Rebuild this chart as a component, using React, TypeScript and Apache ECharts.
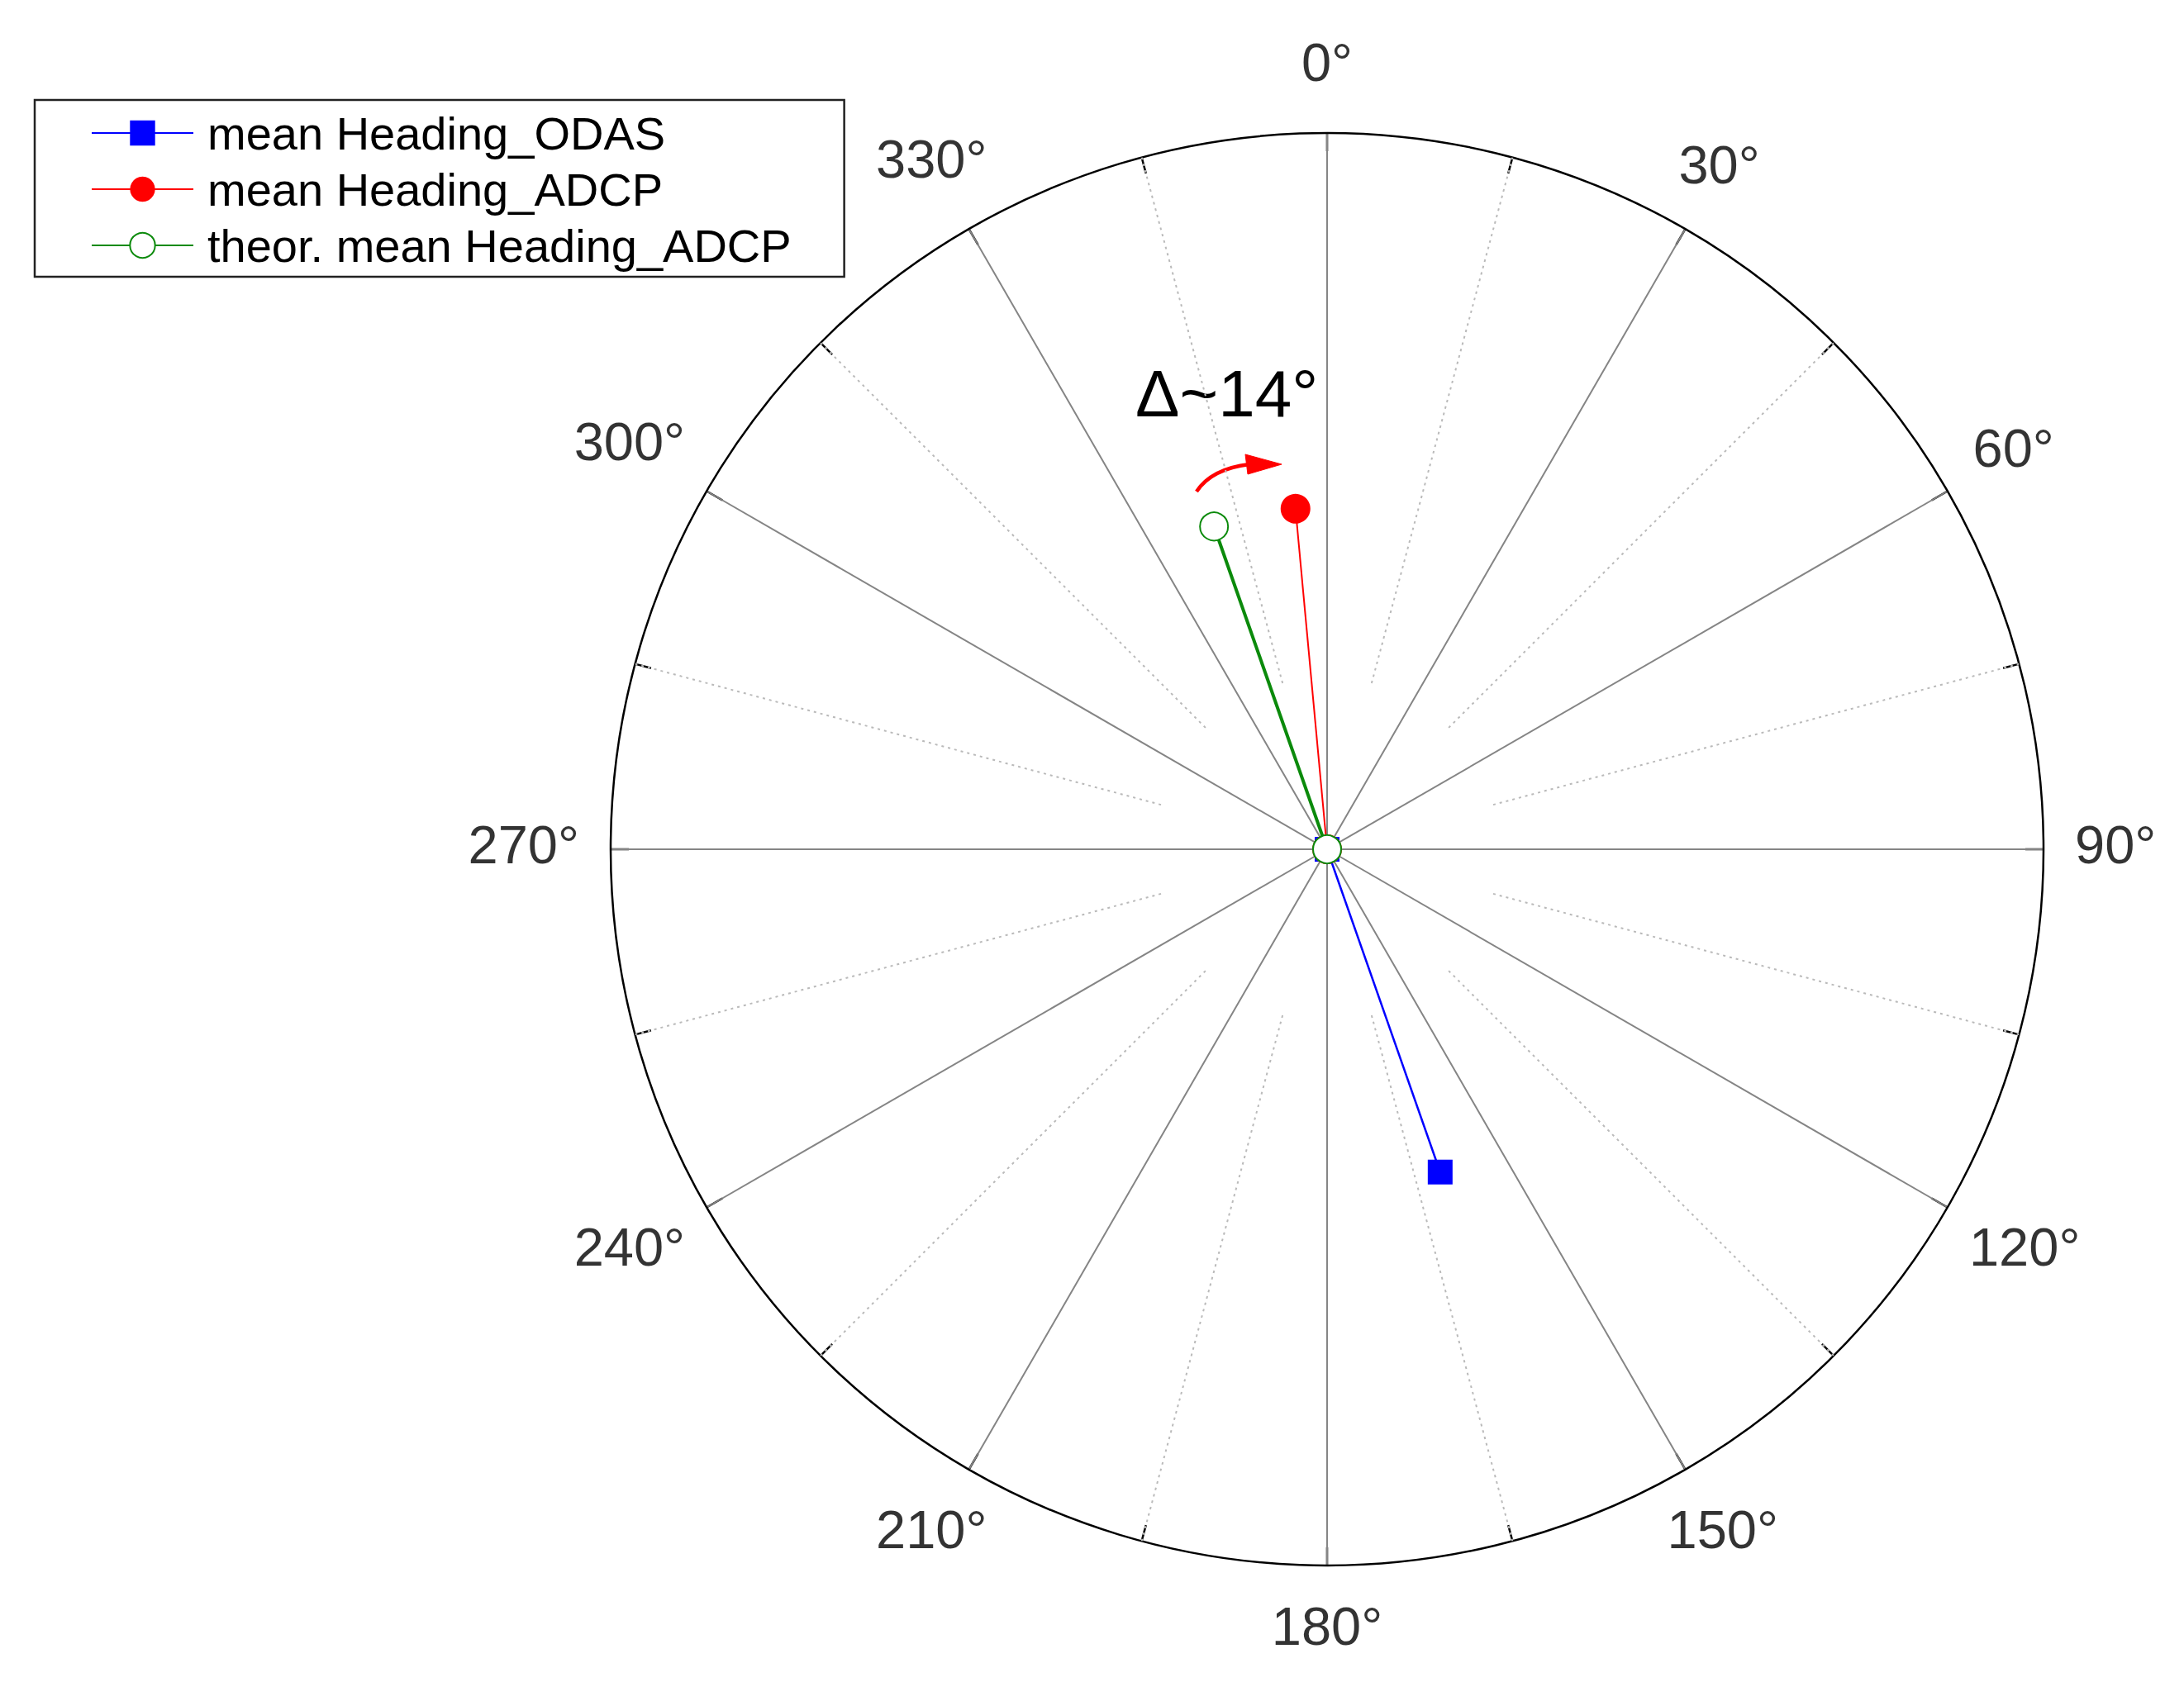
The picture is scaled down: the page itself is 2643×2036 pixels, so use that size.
import React, { useEffect, useRef } from 'react';
import * as echarts from 'echarts';

// ---------------- data ----------------
const seriesNames = ['mean Heading_ODAS', 'mean Heading_ADCP', 'theor. mean Heading_ADCP'];
const headingDeg = [160.7, 354.7, 340.7];
const magnitude = [0.4775, 0.4775, 0.4775];
const tickAngles = [0, 30, 60, 90, 120, 150, 180, 210, 240, 270, 300, 330];
const tickLabels = ['0°', '30°', '60°', '90°', '120°', '150°', '180°', '210°', '240°', '270°', '300°', '330°'];
const minorAngles = [15, 45, 75, 105, 135, 165, 195, 225, 255, 285, 315, 345];
const annotationText = 'Δ~14°';

// ---------------- layout / style ----------------
const W = 2627;
const H = 2020;
const CX = 1598;
const CY = 1020;
const R = 867;
const LABEL_GAP = 905; // distance from centre to the nearest edge of a label's box
const LABEL_FS = 65;
const MINOR_R0 = 0.24;
const FONT = '"Liberation Sans", Arial, sans-serif';

const colors = ['#0000ff', '#ff0000', '#0b8a0b'];
const symbols = ['rect', 'circle', 'emptyCircle'];
const symbolSizes = [30, 36, 34];
const lineWidths = [2.5, 2, 4];

// label box is pushed outward along its ray until its nearest edge is LABEL_GAP away
function labelRadius(text: string, angleDeg: number): number {
  let w = 0;
  for (const ch of text) w += ch === '°' ? 0.4 : 0.556;
  const a = (angleDeg * Math.PI) / 180;
  const s = Math.abs(Math.sin(a));
  const c = Math.abs(Math.cos(a));
  const hw = (w * LABEL_FS) / 2;
  const hh = (0.716 * LABEL_FS) / 2 + (c > 0.99 ? 18 : 0);
  let lo = R * 0.9;
  let hi = R * 1.5;
  for (let k = 0; k < 60; k++) {
    const t = (lo + hi) / 2;
    const dx = Math.max(t * s - hw, 0);
    const dy = Math.max(t * c - hh, 0);
    if (Math.hypot(dx, dy) < LABEL_GAP) lo = t;
    else hi = t;
  }
  return (lo + hi) / 2 / R;
}

export default function App() {
  const ref = useRef<HTMLDivElement>(null);

  useEffect(() => {
    if (!ref.current) return;
    const chart = echarts.init(ref.current, undefined, { renderer: 'svg' });

    const mainSeries = seriesNames.map((name, i) => ({
      type: 'line',
      name,
      coordinateSystem: 'polar',
      data: [
        [0, headingDeg[i]],
        [magnitude[i], headingDeg[i]],
      ],
      symbol: symbols[i],
      symbolSize: symbolSizes[i],
      showAllSymbol: true,
      lineStyle: { color: colors[i], width: lineWidths[i] },
      itemStyle:
        symbols[i] === 'emptyCircle'
          ? { color: colors[i], borderColor: colors[i], borderWidth: 2.5 }
          : { color: colors[i] },
      z: 10 + i,
      silent: true,
    }));

    const minorSeries = minorAngles.map((a) => ({
      type: 'line',
      name: 'minor-' + a,
      coordinateSystem: 'polar',
      data: [
        [MINOR_R0, a],
        [1, a],
      ],
      symbol: 'none',
      silent: true,
      lineStyle: { color: '#bababa', width: 2, type: [3, 5] },
      z: 1,
    }));

    const labelSeries = {
      type: 'scatter',
      name: 'angle-labels',
      coordinateSystem: 'polar',
      clip: false,
      silent: true,
      symbolSize: 1,
      itemStyle: { color: 'rgba(0,0,0,0)' },
      data: tickAngles.map((a, i) => [labelRadius(tickLabels[i], a), a]),
      label: {
        show: true,
        position: 'inside',
        offset: [0, -6],
        formatter: (p: any) => tickLabels[p.dataIndex],
        fontSize: LABEL_FS,
        fontFamily: FONT,
        color: '#000',
        textBorderWidth: 0,
      },
      z: 5,
    };

    chart.setOption({
      animation: false,
      backgroundColor: '#fff',
      polar: { center: [CX, CY], radius: R },
      angleAxis: {
        type: 'value',
        min: 0,
        max: 360,
        interval: 30,
        startAngle: 90,
        clockwise: true,
        axisLine: { show: true, lineStyle: { color: '#000', width: 2.5 } },
        axisTick: { show: true, inside: true, length: 22, lineStyle: { color: '#000', width: 2.5 } },
        minorTick: { show: true, splitNumber: 2, length: 20, lineStyle: { color: '#000', width: 2.5 } },
        axisLabel: { show: false },
        splitLine: { show: true, lineStyle: { color: '#858585', width: 2 } },
      },
      radiusAxis: {
        type: 'value',
        min: 0,
        max: 1,
        axisLine: { show: false },
        axisTick: { show: false },
        axisLabel: { show: false },
        splitLine: { show: false },
      },
      legend: {
        data: seriesNames,
        orient: 'vertical',
        left: 34,
        top: 113,
        padding: [12, 64, 10, 68],
        itemWidth: 123,
        itemHeight: 38,
        itemGap: 12,
        borderColor: '#222',
        borderWidth: 2.5,
        backgroundColor: '#fff',
        selectedMode: false,
        textStyle: {
          fontSize: 56,
          fontFamily: FONT,
          color: '#000',
          padding: [0, 0, 0, 12],
        },
      },
      graphic: [
        {
          type: 'text',
          x: CX - 232,
          y: CY - 552,
          silent: true,
          style: {
            text: annotationText,
            fontSize: 80,
            fontFamily: FONT,
            fill: '#000',
            align: 'left',
            verticalAlign: 'middle',
          },
        },
        {
          type: 'bezierCurve',
          silent: true,
          shape: {
            x1: CX - 158,
            y1: CY - 433,
            x2: CX - 94,
            y2: CY - 466,
            cpx1: CX - 140,
            cpy1: CY - 460.5,
          },
          style: { stroke: '#ff0000', lineWidth: 4.5, fill: null },
        },
        {
          type: 'polygon',
          silent: true,
          shape: {
            points: [
              [CX - 99, CY - 478],
              [CX - 96, CY - 454],
              [CX - 55, CY - 466],
            ],
          },
          style: { fill: '#ff0000', stroke: '#ff0000', lineWidth: 1 },
        },
      ],
      series: [...minorSeries, labelSeries, ...mainSeries],
    });

    return () => {
      chart.dispose();
    };
  }, []);

  return <div ref={ref} style={{ width: W, height: H }} />;
}
